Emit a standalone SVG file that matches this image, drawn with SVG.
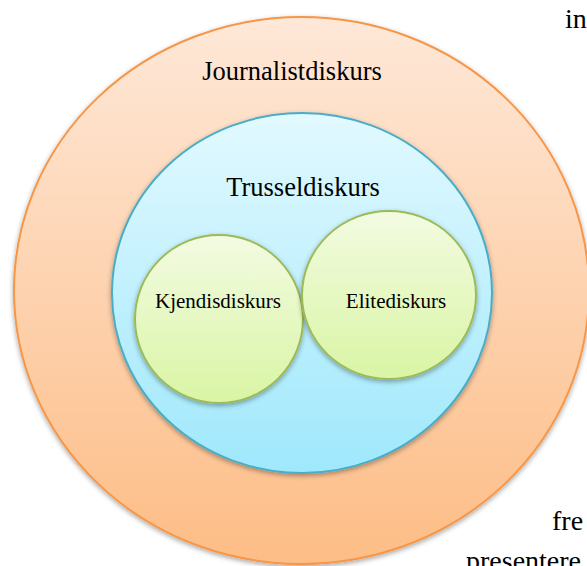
<svg xmlns="http://www.w3.org/2000/svg" width="587" height="566" viewBox="0 0 587 566">
<defs>
<linearGradient id="gO" x1="0" y1="0" x2="0" y2="1"><stop offset="0" stop-color="#fee8d8"/><stop offset="1" stop-color="#fdbd86"/></linearGradient>
<linearGradient id="gB" x1="0" y1="0" x2="0" y2="1"><stop offset="0" stop-color="#e2f9ff"/><stop offset="1" stop-color="#9fe8fc"/></linearGradient>
<linearGradient id="gG" x1="0" y1="0" x2="0" y2="1"><stop offset="0" stop-color="#f3fbe2"/><stop offset="1" stop-color="#d9f5a4"/></linearGradient>
<filter id="sh" x="-10%" y="-10%" width="120%" height="125%"><feDropShadow dx="0" dy="2" stdDeviation="2.5" flood-color="#000" flood-opacity="0.35"/></filter>
</defs>
<style>
.lbl{font-family:"Liberation Serif","Times New Roman",serif;fill:#000;text-anchor:middle}
.big{font-size:26.5px}
.sm{font-size:21px}
.body{font-family:"Liberation Serif","Times New Roman",serif;font-size:28px;fill:#000}
</style>
<rect width="587" height="566" fill="#fff"/>
<g id="journalistdiskurs">
<ellipse cx="301.5" cy="290.5" rx="287.5" ry="273.5" fill="url(#gO)" stroke="#f79646" stroke-width="2" filter="url(#sh)"/>
<text class="lbl big" x="292" y="80">Journalistdiskurs</text>
</g>
<g id="trusseldiskurs">
<ellipse cx="302" cy="293" rx="190" ry="180" fill="url(#gB)" stroke="#4bacc6" stroke-width="2" filter="url(#sh)"/>
<text class="lbl big" x="303" y="196">Trusseldiskurs</text>
</g>
<g id="kjendisdiskurs">
<ellipse cx="219" cy="319" rx="84" ry="84" fill="url(#gG)" stroke="#9bbb59" stroke-width="2" filter="url(#sh)"/>
<text class="lbl sm" x="218" y="308">Kjendisdiskurs</text>
</g>
<g id="elitediskurs">
<ellipse cx="389" cy="295" rx="87" ry="84" fill="url(#gG)" stroke="#9bbb59" stroke-width="2" filter="url(#sh)"/>
<text class="lbl sm" x="396" y="308">Elitediskurs</text>
</g>
<g id="connectors"/>
<text class="body" x="565" y="28">in</text>
<text class="body" x="552" y="530">fre</text>
<text class="body" x="466" y="570">presentere</text>
</svg>
